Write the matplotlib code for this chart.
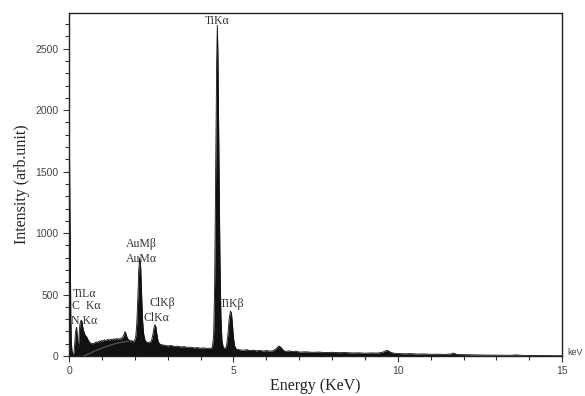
import matplotlib.pyplot as plt
from matplotlib.ticker import MultipleLocator

# EDS spectrum (energy in keV, counts)
energy = [0.00, 0.005, 0.015, 0.025, 0.035, 0.045, 0.055, 0.07, 0.09, 0.11, 0.13, 0.15, 0.17, 0.19,
          0.21, 0.23, 0.25, 0.27, 0.29, 0.31, 0.33, 0.35, 0.37, 0.39, 0.41, 0.43, 0.45, 0.47, 0.49,
          0.52, 0.55, 0.58, 0.61, 0.64, 0.67, 0.70, 0.73, 0.76, 0.79,
          0.83, 0.87, 0.91, 0.95, 0.99, 1.03, 1.07, 1.11, 1.15, 1.19, 1.23, 1.27, 1.31, 1.35, 1.39,
          1.43, 1.47, 1.51, 1.55, 1.59, 1.63, 1.67, 1.70, 1.73, 1.76, 1.79, 1.83, 1.87, 1.91, 1.95,
          1.99, 2.03, 2.06, 2.09, 2.12, 2.15, 2.18, 2.21, 2.24, 2.27, 2.31, 2.35, 2.40, 2.45, 2.50,
          2.54, 2.58, 2.61, 2.64, 2.67, 2.71, 2.75, 2.80, 2.90, 3.00, 3.10, 3.20, 3.30, 3.40, 3.50,
          3.60, 3.70, 3.80, 3.90, 4.00, 4.10, 4.20, 4.30, 4.36, 4.40, 4.43, 4.46, 4.49, 4.51, 4.53,
          4.56, 4.59, 4.62, 4.65, 4.69, 4.74, 4.79, 4.83, 4.87, 4.91, 4.94, 4.97, 5.00, 5.04, 5.09,
          5.20, 5.30, 5.40, 5.50, 5.60, 5.70, 5.80, 5.90, 6.00, 6.10, 6.20, 6.30, 6.38, 6.45, 6.52,
          6.60, 6.70, 6.80, 6.90, 7.00, 7.20, 7.40, 7.60, 7.80, 8.00, 8.20, 8.40, 8.60, 8.80, 9.00,
          9.20, 9.40, 9.55, 9.65, 9.72, 9.80, 9.90, 10.0, 10.2, 10.4, 10.6, 10.8, 11.0, 11.2, 11.4,
          11.6, 11.7, 11.8, 12.0, 12.3, 12.6, 13.0, 13.4, 13.6, 13.8, 14.2, 14.6, 15.0]
counts = [0, 1680, 1660, 1250, 1000, 620, 300, 120, 40, 15, 10, 30, 90, 170,
          215, 232, 160, 70, 90, 190, 255, 280, 292, 285, 250, 215, 200, 185, 170,
          160, 150, 130, 118, 108, 102, 98, 104, 100, 110,
          115, 108, 122, 114, 128, 120, 132, 124, 130, 136, 127, 138, 131, 140, 134,
          143, 136, 141, 138, 145, 152, 175, 198, 185, 155, 138, 130, 122, 126, 116,
          122, 160, 260, 460, 700, 800, 720, 480, 280, 180, 130, 115, 108, 112, 120,
          160, 225, 255, 240, 180, 120, 100, 92, 88, 82, 86, 78, 80, 74, 76,
          70, 72, 66, 68, 64, 66, 62, 63, 70, 180, 600, 1500, 2400, 2690, 2450,
          1600, 800, 320, 130, 70, 60, 80, 170, 300, 365, 350, 260, 150, 80, 55,
          50, 46, 52, 44, 48, 42, 46, 40, 44, 40, 42, 60, 82, 70, 45,
          38, 42, 36, 40, 32, 34, 30, 32, 28, 30, 27, 28, 25, 26, 23,
          25, 24, 32, 45, 42, 28, 22, 20, 18, 19, 16, 17, 14, 15, 13,
          16, 24, 12, 11, 9, 8, 7, 6, 9, 5, 4, 3, 2]

# fitted background curve drawn under the low-energy part
bg_energy = [0.45, 0.60, 0.80, 1.00, 1.20, 1.40, 1.60, 1.80]
bg_counts = [0, 18, 42, 64, 84, 100, 112, 120]

# peak labels: text, x (keV), y (counts), alignment
labels = ["TiKα", "AuMβ", "AuMα", "ClKβ", "ClKα", "TiKβ", "TiLα", "C  Kα", "N Kα"]
label_x = [4.50, 2.20, 2.20, 2.85, 2.65, 4.95, 0.10, 0.10, 0.05]
label_y = [2680, 865, 740, 380, 262, 375, 455, 355, 240]
label_ha = ["center", "center", "center", "center", "center", "center", "left", "left", "left"]

fig = plt.figure(figsize=(5.85, 3.96), dpi=100)
ax = fig.add_axes([0.118, 0.101, 0.843, 0.866])

ax.fill_between(energy, counts, 0, color="#111111", linewidth=0)
ax.plot(energy, counts, color="#111111", linewidth=0.6)
ax.plot(bg_energy, bg_counts, color="#555555", linewidth=0.9)

serif = ["Liberation Serif", "DejaVu Serif"]
for txt, x, y, ha in zip(labels, label_x, label_y, label_ha):
    ax.text(x, y, txt, ha=ha, va="bottom", fontsize=8.5, color="#333333", family=serif)

ax.text(15.15, 30, "keV", fontsize=6.5, color="#444444", family="Liberation Sans",
        ha="left", va="center")

ax.set_xlim(0, 15)
ax.set_ylim(0, 2790)
ax.xaxis.set_major_locator(MultipleLocator(5))
ax.xaxis.set_minor_locator(MultipleLocator(1))
ax.yaxis.set_major_locator(MultipleLocator(500))
ax.yaxis.set_minor_locator(MultipleLocator(100))
ax.tick_params(which="both", direction="out", top=False, right=False, colors="#333333",
               labelcolor="#444444", labelsize=7.5, width=0.8)
ax.tick_params(which="major", length=4)
ax.tick_params(which="minor", length=3)
for lbl in ax.get_xticklabels() + ax.get_yticklabels():
    lbl.set_family("Liberation Sans")
for sp in ax.spines.values():
    sp.set_color("#222222")
    sp.set_linewidth(1.0)

ax.set_xlabel("Energy (KeV)", fontsize=11.5, family=serif, color="#222222", labelpad=1)
ax.set_ylabel("Intensity (arb.unit)", fontsize=11.5, family=serif, color="#222222", labelpad=4)

fig.savefig("out.png", dpi=100)
